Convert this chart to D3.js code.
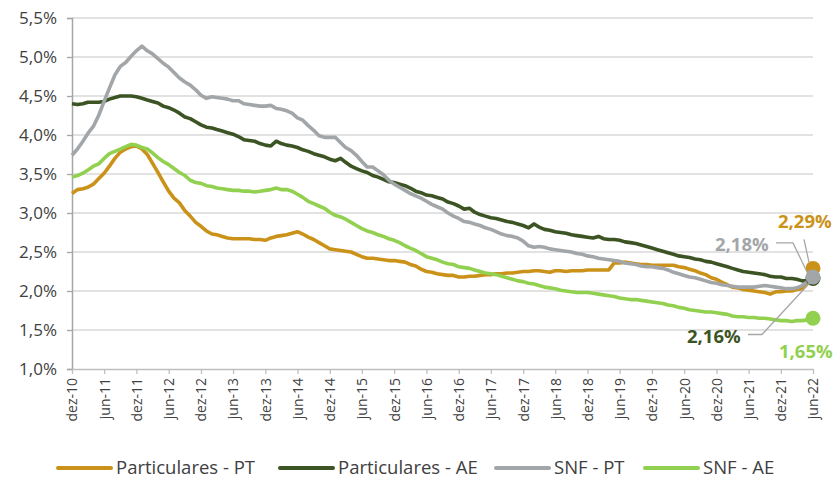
<!DOCTYPE html>
<html>
<head>
<meta charset="utf-8">
<script src="https://cdn.jsdelivr.net/npm/d3@7"></script>
<style>
  body { margin: 0; background: #fff; }
  svg { display: block; font-family: "Open Sans", sans-serif; }
</style>
</head>
<body>
<svg id="chart" width="833" height="478"></svg>
<script>
// monthly observations, dez-10 .. jun-22
const startMonth = new Date(2010, 11, 1);
const endMonth = new Date(2022, 5, 1);

const tickLabels = ["dez-10", "jun-11", "dez-11", "jun-12", "dez-12", "jun-13", "dez-13", "jun-14",
  "dez-14", "jun-15", "dez-15", "jun-16", "dez-16", "jun-17", "dez-17", "jun-18", "dez-18",
  "jun-19", "dez-19", "jun-20", "dez-20", "jun-21", "dez-21", "jun-22"];

const yTicks = [1.0, 1.5, 2.0, 2.5, 3.0, 3.5, 4.0, 4.5, 5.0, 5.5];

const seriesNames = ["Particulares - PT", "Particulares - AE", "SNF - PT", "SNF - AE"];
const seriesColors = ["#CB9219", "#3C5424", "#A3A6A9", "#92D050"];

const particularesPT = [
  3.25, 3.30, 3.31, 3.33, 3.37, 3.44, 3.51, 3.60, 3.70, 3.78, 3.82, 3.85,
  3.86, 3.82, 3.75, 3.64, 3.52, 3.40, 3.28, 3.19, 3.13, 3.03, 2.96, 2.88,
  2.83, 2.77, 2.73, 2.72, 2.70, 2.68, 2.67, 2.67, 2.67, 2.67, 2.66, 2.66,
  2.65, 2.68, 2.70, 2.71, 2.72, 2.74, 2.76, 2.73, 2.69, 2.66, 2.62, 2.58,
  2.54, 2.53, 2.52, 2.51, 2.50, 2.47, 2.44, 2.42, 2.42, 2.41, 2.40, 2.39,
  2.39, 2.38, 2.37, 2.34, 2.32, 2.28, 2.25, 2.24, 2.22, 2.21, 2.20, 2.20,
  2.18, 2.18, 2.19, 2.19, 2.20, 2.21, 2.21, 2.22, 2.22, 2.23, 2.23, 2.24,
  2.25, 2.25, 2.26, 2.26, 2.25, 2.24, 2.26, 2.26, 2.25, 2.26, 2.26, 2.26,
  2.27, 2.27, 2.27, 2.27, 2.27, 2.36, 2.36, 2.37, 2.36, 2.35, 2.34, 2.34,
  2.33, 2.33, 2.33, 2.33, 2.33, 2.31, 2.30, 2.28, 2.26, 2.23, 2.21, 2.17,
  2.15, 2.11, 2.08, 2.05, 2.04, 2.02, 2.01, 2.00, 1.99, 1.98, 1.96, 1.99,
  1.99, 2.00, 2.00, 2.02, 2.03, 2.10, 2.29
];

const particularesAE = [
  4.40, 4.39, 4.40, 4.42, 4.42, 4.42, 4.43, 4.46, 4.48, 4.50, 4.50, 4.50,
  4.49, 4.47, 4.45, 4.43, 4.41, 4.37, 4.35, 4.32, 4.28, 4.23, 4.21, 4.17,
  4.13, 4.10, 4.09, 4.07, 4.05, 4.03, 4.01, 3.98, 3.94, 3.93, 3.92, 3.89,
  3.87, 3.86, 3.92, 3.89, 3.87, 3.86, 3.84, 3.81, 3.79, 3.76, 3.74, 3.72,
  3.69, 3.67, 3.70, 3.65, 3.60, 3.57, 3.54, 3.52, 3.48, 3.46, 3.43, 3.40,
  3.39, 3.37, 3.35, 3.32, 3.28, 3.26, 3.23, 3.22, 3.20, 3.18, 3.14, 3.12,
  3.09, 3.05, 3.06, 3.01, 2.98, 2.96, 2.94, 2.93, 2.91, 2.89, 2.88, 2.86,
  2.84, 2.81, 2.86, 2.82, 2.79, 2.78, 2.76, 2.75, 2.74, 2.72, 2.71, 2.70,
  2.69, 2.68, 2.70, 2.67, 2.66, 2.66, 2.65, 2.63, 2.62, 2.61, 2.59, 2.57,
  2.55, 2.53, 2.51, 2.49, 2.47, 2.45, 2.44, 2.43, 2.41, 2.40, 2.38, 2.37,
  2.35, 2.33, 2.31, 2.29, 2.27, 2.25, 2.24, 2.23, 2.22, 2.21, 2.19, 2.18,
  2.18, 2.16, 2.16, 2.15, 2.13, 2.13, 2.16
];

const snfPT = [
  3.74, 3.82, 3.92, 4.02, 4.11, 4.25, 4.43, 4.60, 4.77, 4.88, 4.93, 5.01,
  5.08, 5.14, 5.08, 5.04, 4.98, 4.92, 4.87, 4.80, 4.73, 4.68, 4.64, 4.58,
  4.51, 4.47, 4.49, 4.48, 4.47, 4.46, 4.44, 4.44, 4.40, 4.39, 4.38, 4.37,
  4.37, 4.38, 4.34, 4.33, 4.31, 4.28, 4.22, 4.19, 4.12, 4.06, 3.99, 3.97,
  3.97, 3.97, 3.90, 3.84, 3.80, 3.74, 3.66, 3.59, 3.59, 3.54, 3.49, 3.42,
  3.37, 3.33, 3.29, 3.25, 3.22, 3.19, 3.15, 3.11, 3.08, 3.05, 3.00, 2.96,
  2.93, 2.89, 2.88, 2.86, 2.84, 2.81, 2.79, 2.76, 2.73, 2.71, 2.70, 2.68,
  2.64, 2.58, 2.56, 2.57, 2.56, 2.54, 2.53, 2.52, 2.51, 2.50, 2.48, 2.47,
  2.45, 2.44, 2.42, 2.41, 2.40, 2.39, 2.38, 2.36, 2.35, 2.34, 2.32, 2.31,
  2.31, 2.30, 2.29, 2.27, 2.24, 2.22, 2.20, 2.18, 2.17, 2.15, 2.13, 2.11,
  2.10, 2.08, 2.07, 2.06, 2.05, 2.05, 2.05, 2.05, 2.06, 2.07, 2.06, 2.05,
  2.04, 2.03, 2.03, 2.04, 2.07, 2.12, 2.18
];

const snfAE = [
  3.46, 3.48, 3.51, 3.55, 3.60, 3.63, 3.70, 3.76, 3.79, 3.82, 3.85, 3.88,
  3.87, 3.84, 3.82, 3.77, 3.71, 3.66, 3.62, 3.57, 3.52, 3.48, 3.42, 3.39,
  3.38, 3.35, 3.34, 3.32, 3.31, 3.30, 3.29, 3.29, 3.28, 3.28, 3.27, 3.28,
  3.29, 3.30, 3.32, 3.30, 3.30, 3.28, 3.24, 3.20, 3.15, 3.12, 3.09, 3.06,
  3.01, 2.97, 2.95, 2.92, 2.88, 2.84, 2.80, 2.77, 2.75, 2.72, 2.70, 2.67,
  2.65, 2.62, 2.58, 2.55, 2.52, 2.48, 2.44, 2.42, 2.40, 2.37, 2.35, 2.34,
  2.31, 2.30, 2.29, 2.27, 2.25, 2.23, 2.22, 2.21, 2.19, 2.17, 2.15, 2.13,
  2.12, 2.10, 2.09, 2.07, 2.05, 2.04, 2.03, 2.01, 2.00, 1.99, 1.98, 1.98,
  1.98, 1.97, 1.96, 1.95, 1.94, 1.93, 1.91, 1.90, 1.89, 1.89, 1.88, 1.87,
  1.86, 1.85, 1.84, 1.82, 1.81, 1.79, 1.78, 1.76, 1.75, 1.74, 1.73, 1.73,
  1.72, 1.71, 1.70, 1.68, 1.67, 1.67, 1.66, 1.66, 1.65, 1.65, 1.64, 1.63,
  1.62, 1.62, 1.61, 1.62, 1.62, 1.63, 1.65
];

const allSeries = [particularesPT, particularesAE, snfPT, snfAE];

// end-of-series callouts: label text, label position and leader line relative to the last point
const callouts = [
  { s: 0, text: "2,29%", dx: -35, dy: -40, leader: [[-9, -29], [-4, -6]] },
  { s: 2, text: "2,18%", dx: -98, dy: -26, leader: [[-37, -34], [-20, -34], [-4, -1]] },
  { s: 1, text: "2,16%", dx: -126, dy: 64, leader: [[-65, 56], [-51, 56], [-2, 3]] },
  { s: 3, text: "1,65%", dx: -34, dy: 40, leader: null }
];

const width = 833, height = 478;
const margin = { left: 72, right: 20, top: 18, bottom: 109 };

const svg = d3.select("#chart");

const months = d3.timeMonth.range(startMonth, d3.timeMonth.offset(endMonth, 1));

const x = d3.scaleTime()
  .domain([startMonth, endMonth])
  .range([margin.left, width - margin.right]);

const y = d3.scaleLinear()
  .domain([1.0, 5.5])
  .range([height - margin.bottom, margin.top]);

const locale = d3.formatLocale({ decimal: ",", thousands: ".", grouping: [3], currency: ["", "€"] });
const pct = v => locale.format(".1f")(v) + "%";

// gridlines
svg.append("g")
  .selectAll("line")
  .data(yTicks.filter(t => t > 1.0))
  .join("line")
  .attr("x1", x.range()[0])
  .attr("x2", x.range()[1])
  .attr("y1", d => y(d))
  .attr("y2", d => y(d))
  .attr("stroke", "#d9d9d9")
  .attr("stroke-width", 1.3);

// y axis
const yAxis = svg.append("g")
  .attr("transform", `translate(${margin.left},0)`)
  .call(d3.axisLeft(y).tickValues(yTicks).tickFormat(pct).tickSize(5).tickPadding(10));
yAxis.select(".domain").attr("stroke", "#a6a6a6").attr("stroke-width", 1.5);
yAxis.selectAll(".tick line").attr("stroke", "#a6a6a6").attr("stroke-width", 1.3);
yAxis.selectAll(".tick text")
  .attr("fill", "#404040")
  .style("font-size", "17px")
  .style("font-family", "'Open Sans', sans-serif");

// x axis
const tickDates = tickLabels.map((_, i) => d3.timeMonth.offset(startMonth, i * 6));
const xAxis = svg.append("g")
  .attr("transform", `translate(0,${y(1.0)})`)
  .call(d3.axisBottom(x).tickValues(tickDates).tickFormat((d, i) => tickLabels[i]).tickSize(5).tickSizeOuter(0));
xAxis.select(".domain").attr("stroke", "#bfbfbf").attr("stroke-width", 1.5);
xAxis.selectAll(".tick line").attr("stroke", "#bfbfbf").attr("stroke-width", 1.3);
xAxis.selectAll(".tick text")
  .attr("fill", "#404040")
  .style("font-size", "14px")
  .style("font-family", "'Open Sans', sans-serif")
  .style("text-anchor", "end")
  .attr("transform", "rotate(-90)")
  .attr("x", -9)
  .attr("y", 0)
  .attr("dy", "0.35em");

// lines
const line = d3.line()
  .x((d, i) => x(months[i]))
  .y(d => y(d));

svg.append("g")
  .selectAll("path")
  .data(allSeries)
  .join("path")
  .attr("d", line)
  .attr("fill", "none")
  .attr("stroke", (d, i) => seriesColors[i])
  .attr("stroke-width", 3.6)
  .attr("stroke-linejoin", "round");

// end markers
const lastDate = months[months.length - 1];
svg.append("g")
  .selectAll("circle")
  .data([1, 0, 3, 2])
  .join("circle")
  .attr("cx", x(lastDate))
  .attr("cy", s => y(allSeries[s][allSeries[s].length - 1]))
  .attr("r", 7.5)
  .attr("fill", s => seriesColors[s]);

// callouts
const cg = svg.append("g");
callouts.forEach(c => {
  const vals = allSeries[c.s];
  const px = x(lastDate), py = y(vals[vals.length - 1]);
  if (c.leader) {
    cg.append("path")
      .attr("d", d3.line()(c.leader.map(p => [px + p[0], py + p[1]])))
      .attr("fill", "none")
      .attr("stroke", "#a6a6a6")
      .attr("stroke-width", 1.3);
  }
  cg.append("text")
    .attr("x", px + c.dx)
    .attr("y", py + c.dy)
    .attr("fill", seriesColors[c.s])
    .style("font-size", "18.5px")
    .style("font-weight", "bold")
    .text(c.text);
});

// legend
const legendX = [58, 280, 496, 645];
const leg = svg.append("g").attr("transform", "translate(0,468)");
seriesNames.forEach((name, i) => {
  leg.append("line")
    .attr("x1", legendX[i])
    .attr("x2", legendX[i] + 53)
    .attr("y1", 0)
    .attr("y2", 0)
    .attr("stroke", seriesColors[i])
    .attr("stroke-width", 4)
    .attr("stroke-linecap", "round");
  leg.append("text")
    .attr("x", legendX[i] + 58)
    .attr("y", 0)
    .attr("dy", "0.35em")
    .attr("fill", "#404040")
    .style("font-size", "18.5px")
    .text(name);
});
</script>
</body>
</html>
